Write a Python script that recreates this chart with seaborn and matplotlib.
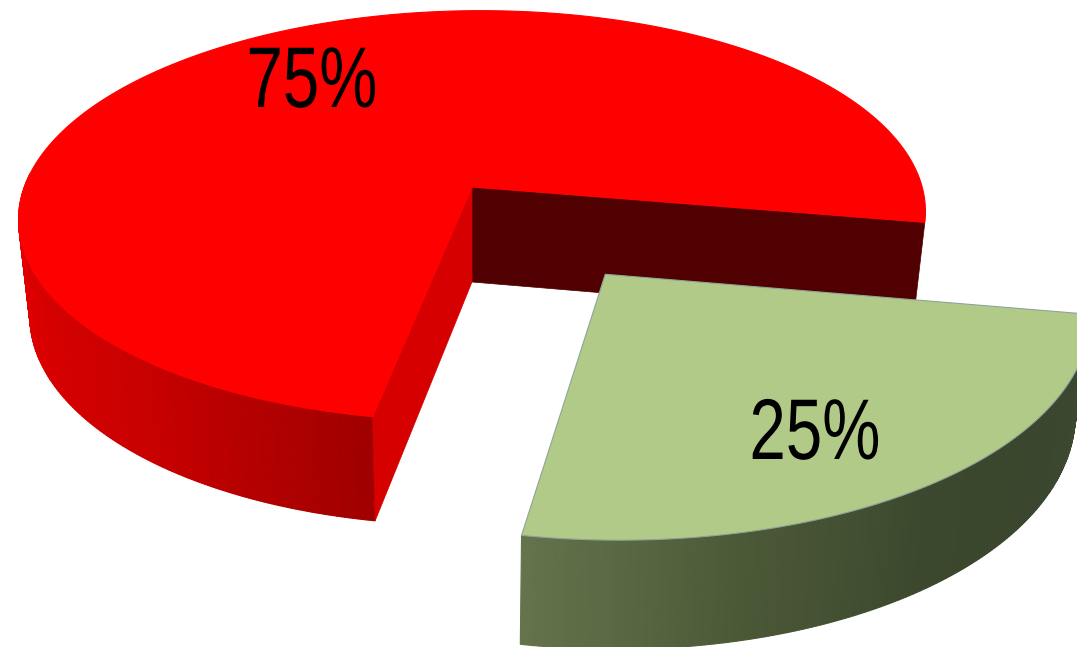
import numpy as np
import seaborn as sns
import matplotlib
matplotlib.use("Agg")
import matplotlib.pyplot as plt
from matplotlib.patches import Polygon
from matplotlib.patheffects import AbstractPathEffect
from matplotlib.transforms import Affine2D

# Chart values
categories = ["Major share", "Minor share"]
shares = [75, 25]
pulled_out = [0.0, 0.5]
top_colors = ["#FF0000", "#B1CA88"]
label_spots = [(312, 85), (815, 437)]

# Scene set-up: a disc seen in perspective, in pixel units
START_ANGLE = -11.0
CX, CY = 472.0, 187.0
RX, RY = 449.0, 201.0
PERSPECTIVE = 0.14
TILT = -0.02
DEPTH = 95.0
BASE_RX, BASE_RY = 0.975, 1.04

sns.set_theme(style="white")
plt.rcParams["font.family"] = ["Liberation Sans", "DejaVu Sans"]

fig = plt.figure(figsize=(10.77, 6.47), dpi=100, facecolor="white")
ax = fig.add_axes([0, 0, 1, 1])
ax.set_xlim(0, 1077)
ax.set_ylim(647, 0)
ax.axis("off")


class Condensed(AbstractPathEffect):
    """Narrow the glyphs horizontally about a fixed page position."""

    def __init__(self, x_display, factor):
        super().__init__()
        self.x_display = x_display
        self.factor = factor

    def draw_path(self, renderer, gc, tpath, affine, rgbFace=None):
        squeeze = (Affine2D().translate(-self.x_display, 0)
                   .scale(self.factor, 1).translate(self.x_display, 0))
        renderer.draw_path(gc, tpath, affine + squeeze, rgbFace)


def project(u, v, base=False):
    """Map disc coordinates to the page, on the top face or on the base."""
    w = 1 - PERSPECTIVE * v
    if base:
        return (CX + BASE_RX * RX * u / w,
                CY + DEPTH + BASE_RY * RY * (v + TILT * u) / w)
    return CX + RX * u / w, CY + RY * (v + TILT * u) / w


def rim(theta_deg, off, base=False):
    t = np.radians(theta_deg)
    return project(off[0] + np.cos(t), off[1] - np.sin(t), base)


def wall(theta_a, theta_b, off, colors, order):
    """Outer wall as thin quads, shaded along the arc."""
    steps = max(int(abs(theta_b - theta_a) * 2), 2)
    angles = np.linspace(theta_a, theta_b, steps + 1)
    shades = sns.blend_palette(colors, steps)
    for a, b, shade in zip(angles[:-1], angles[1:], shades):
        quad = [rim(a, off), rim(b, off), rim(b, off, True), rim(a, off, True)]
        ax.add_patch(Polygon(quad, closed=True, fc=shade, ec=shade, lw=0.8, zorder=order))


def inner_wall(theta, off, color, order):
    quad = [project(off[0], off[1]), rim(theta, off),
            rim(theta, off, True), project(off[0], off[1], True)]
    ax.add_patch(Polygon(quad, closed=True, fc=color, ec=color, lw=0.5, zorder=order))


def top_face(theta_a, theta_b, off, color, order, edge=None):
    angles = np.linspace(theta_a, theta_b, 240)
    outline = [project(off[0], off[1])] + [rim(a, off) for a in angles]
    ax.add_patch(Polygon(outline, closed=True, fc=color, ec=edge or color,
                         lw=0.8, zorder=order))


# Slice angles come from the shares: the large slice runs counter-clockwise
# from the start angle and the small one closes the circle.
sweeps = [360.0 * s / sum(shares) for s in shares]
red_start, red_end = START_ANGLE, START_ANGLE + sweeps[0]
green_start, green_end = red_start - sweeps[1], red_start

# Large slice
wall(175, 205, (0, 0), ["#EE0000", "#D80000"], 1)
wall(205, red_end, (0, 0), ["#D80000", "#C60000", "#A00000"], 1)
inner_wall(red_start, (0, 0), "#500000", 2)
inner_wall(red_end, (0, 0), "#D60000", 2)
top_face(red_start, red_end, (0, 0), top_colors[0], 3)

# Small slice, pulled out along its bisector
mid = np.radians((green_start + green_end) / 2)
off = (pulled_out[1] * np.cos(mid), -pulled_out[1] * np.sin(mid))
wall(green_start, green_end, off,
     ["#64734C", "#4C5937", "#3C482D", "#3A462D", "#3E4A30"], 4)
top_face(green_start, green_end, off, top_colors[1], 5, edge="#8EA49A")

# Percentage labels
for share, (x, y) in zip(shares, label_spots):
    label = ax.text(x, y, f"{share}%", fontsize=62, color="black",
                    ha="center", va="center", zorder=6)
    label.set_path_effects([Condensed(ax.transData.transform((x, y))[0], 0.76)])

fig.savefig("out.png", dpi=100, facecolor="white")
